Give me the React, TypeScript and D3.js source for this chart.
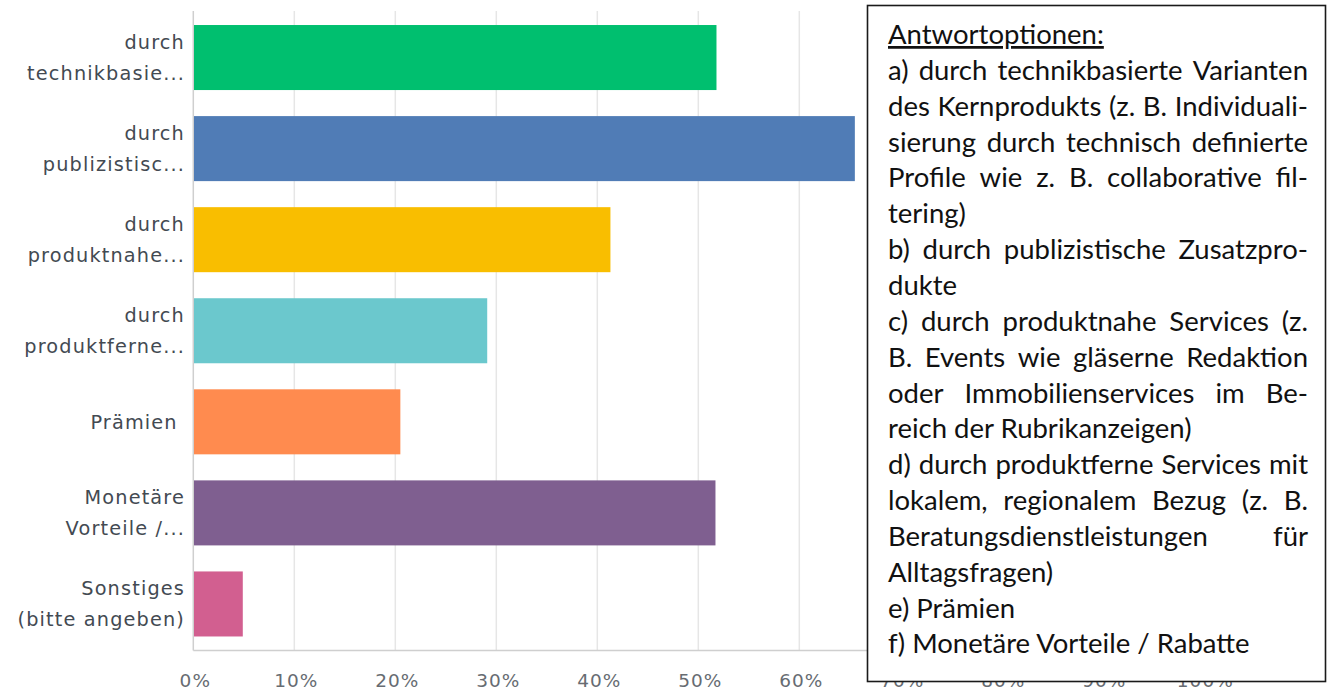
import React, { useEffect, useRef } from "react";
import * as d3 from "d3";

// ---- data ----
const categoryLines: string[][] = [
  ["durch", "technikbasie..."],
  ["durch", "publizistisc..."],
  ["durch", "produktnahe..."],
  ["durch", "produktferne..."],
  ["Prämien\u00a0"],
  ["Monetäre", "Vorteile /..."],
  ["Sonstiges", "(bitte angeben)"],
];
const categories = categoryLines.map((l) => l.join(" "));
const values = [51.8, 65.5, 41.3, 29.1, 20.5, 51.7, 4.9];
const barColors = ["#00bf6f", "#507cb6", "#f9be00", "#6bc8cd", "#ff8b4f", "#7f5f90", "#d25f90"];
const tickValues = [0, 10, 20, 30, 40, 50, 60, 70, 80, 90, 100];
const tickLabels = tickValues.map((v) => `${v}%`);

const noteTitle = "Antwortoptionen:";
const noteLines = [
  "a) durch technikbasierte Varianten",
  "des Kernprodukts (z. B. Individuali-",
  "sierung durch technisch definierte",
  "Profile wie z. B. collaborative fil-",
  "tering)",
  "b) durch publizistische Zusatzpro-",
  "dukte",
  "c) durch produktnahe Services (z.",
  "B. Events wie gläserne Redaktion",
  "oder Immobilienservices im Be-",
  "reich der Rubrikanzeigen)",
  "d) durch produktferne Services mit",
  "lokalem, regionalem Bezug (z. B.",
  "Beratungsdienstleistungen für",
  "Alltagsfragen)",
  "e) Prämien",
  "f) Monetäre Vorteile / Rabatte",
];
const noteJustified = [
  true, true, true, true, false, true, false, true, true, true, false, true, true, true, false, false, false,
];

export default function App() {
  const ref = useRef<SVGSVGElement | null>(null);

  useEffect(() => {
    document.body.style.margin = "0";
    const W = 1330;
    const H = 690;
    const svg = d3.select(ref.current!);
    svg.selectAll("*").remove();
    svg.attr("width", W).attr("height", H);

    const plotTop = 11;
    const plotBottom = 650.5;
    const x = d3.scaleLinear().domain([0, 100]).range([193.3, 1203.3]);
    const y = d3
      .scaleBand<string>()
      .domain(categories)
      .range([plotTop, plotBottom])
      .paddingInner(0.286)
      .paddingOuter(0.154);

    const labelFont = "'DejaVu Sans', sans-serif";

    // gridlines
    svg
      .append("g")
      .selectAll("line")
      .data(tickValues.filter((t) => t > 0))
      .join("line")
      .attr("x1", (d) => x(d))
      .attr("x2", (d) => x(d))
      .attr("y1", plotTop)
      .attr("y2", plotBottom)
      .attr("stroke", "#e6e6e6")
      .attr("stroke-width", 1.5);

    // axes lines
    svg
      .append("line")
      .attr("x1", x(0))
      .attr("x2", x(0))
      .attr("y1", plotTop)
      .attr("y2", plotBottom)
      .attr("stroke", "#cfcfcf")
      .attr("stroke-width", 1.5);
    svg
      .append("line")
      .attr("x1", x(0))
      .attr("x2", x(100))
      .attr("y1", plotBottom)
      .attr("y2", plotBottom)
      .attr("stroke", "#cfcfcf")
      .attr("stroke-width", 1.5);

    // bars
    svg
      .append("g")
      .selectAll("rect")
      .data(categories)
      .join("rect")
      .attr("x", x(0) + 0.7)
      .attr("y", (d) => y(d)!)
      .attr("width", (d, i) => x(values[i]) - x(0) - 0.7)
      .attr("height", y.bandwidth())
      .attr("fill", (d, i) => barColors[i]);

    // category labels
    const lineGap = 31;
    const lg = svg.append("g");
    categories.forEach((c, i) => {
      const lines = categoryLines[i];
      const cy = y(c)! + y.bandwidth() / 2;
      const t = lg
        .append("text")
        .attr("text-anchor", "end")
        .attr("font-family", labelFont)
        .attr("font-size", 19.3)
        .attr("letter-spacing", 1.15)
        .attr("fill", "#434a52")
        .style("white-space", "pre");
      lines.forEach((ln, k) => {
        const off = (k - (lines.length - 1) / 2) * lineGap;
        t.append("tspan")
          .attr("x", 185)
          .attr("y", cy + off)
          .attr("dy", "0.36em")
          .text(ln);
      });
    });

    // tick labels
    svg
      .append("g")
      .selectAll("text")
      .data(tickValues)
      .join("text")
      .attr("x", (d) => x(d) + 2)
      .attr("y", 680)
      .attr("dy", "0.36em")
      .attr("text-anchor", "middle")
      .attr("font-family", labelFont)
      .attr("font-size", 18.5)
      .attr("letter-spacing", 1)
      .attr("fill", "#676c72")
      .text((d, i) => tickLabels[i]);

    // note box
    svg
      .append("rect")
      .attr("x", 867.5)
      .attr("y", 5.5)
      .attr("width", 458)
      .attr("height", 676)
      .attr("fill", "#fff")
      .attr("stroke", "#1a1a1a")
      .attr("stroke-width", 1.6);

    const noteFont = "Lato, 'Open Sans', sans-serif";
    const nx = 888;
    const nRight = 1308;
    const base0 = 44;
    const pitch = 35.85;
    const nfs = 27.5;

    svg
      .append("text")
      .attr("x", nx)
      .attr("y", base0)
      .attr("font-family", noteFont)
      .attr("font-size", nfs)
      .attr("fill", "#111")
      .style("text-decoration", "underline")
      .text(noteTitle);

    noteLines.forEach((ln, i) => {
      const by = base0 + (i + 1) * pitch;
      const t = svg
        .append("text")
        .attr("y", by)
        .attr("font-family", noteFont)
        .attr("font-size", nfs)
        .attr("fill", "#111");
      if (!noteJustified[i]) {
        t.attr("x", nx).text(ln);
        return;
      }
      const words = ln.split(" ");
      const spans = words.map((w) => t.append("tspan").attr("y", by).text(w));
      const widths = spans.map((s) => (s.node() as SVGTSpanElement).getComputedTextLength());
      const total = widths.reduce((a, b) => a + b, 0);
      const gap = words.length > 1 ? (nRight - nx - total) / (words.length - 1) : 0;
      let cx = nx;
      spans.forEach((s, k) => {
        s.attr("x", cx);
        cx += widths[k] + gap;
      });
    });
  }, []);

  return <svg ref={ref} style={{ display: "block" }} />;
}
